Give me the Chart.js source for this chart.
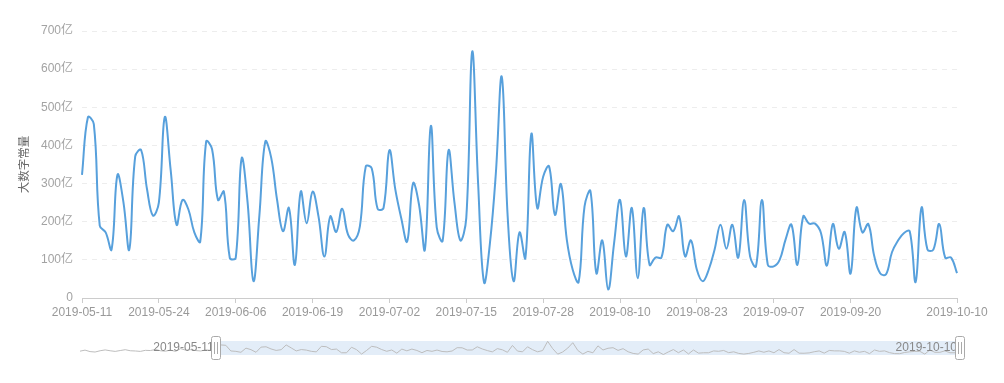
<!DOCTYPE html>
<html>
<head>
<meta charset="utf-8">
<script src="https://cdn.jsdelivr.net/npm/chart.js@4.4.1/dist/chart.umd.min.js"></script>
<style>
  html, body { margin: 0; padding: 0; background: #fff; }
  #wrap { position: relative; width: 1004px; height: 383px; }
  #main { position: absolute; left: 0; top: 0; }
  #zoom { position: absolute; left: 0; top: 330px; }
</style>
</head>
<body>
<div id="wrap">
  <canvas id="main" width="1004" height="330"></canvas>
  <canvas id="zoom" width="1004" height="53"></canvas>
</div>
<script>
// dates shown in the main window (some days are missing in the source data)
const firstDate = '2019-05-11';
const lastDate = '2019-10-10';
const skippedDates = ['2019-08-31', '2019-09-01', '2019-10-01', '2019-10-02'];
const hiddenDaysBefore = 27; // data before the zoom window, only seen in the slider

// 大数字常量, in 亿
const values = [
  323, 474, 456, 190, 172, 127, 323, 252, 127, 371, 388, 285, 216, 250, 474, 335, 192, 257, 232, 172,
  148, 410, 390, 257, 279, 105, 105, 366, 252, 44, 216, 410, 368, 257, 175, 236, 87, 279, 196, 279,
  214, 109, 214, 173, 234, 166, 151, 188, 345, 340, 234, 236, 387, 284, 209, 148, 301, 245, 127, 451,
  185, 150, 387, 250, 151, 210, 646, 300, 41, 144, 327, 580, 214, 44, 172, 105, 430, 236, 318, 345,
  218, 299, 153, 74, 42, 240, 280, 65, 151, 22, 144, 257, 109, 236, 52, 236, 87, 106, 106, 192,
  175, 214, 109, 151, 74, 44, 74, 127, 192, 129, 192, 106, 257, 109, 83, 257, 87, 83, 100, 153,
  192, 87, 214, 195, 195, 170, 85, 194, 129, 173, 64, 237, 172, 194, 110, 65, 62, 120, 150, 170,
  175, 42, 237, 127, 127, 194, 106, 106, 65
];

// values before 2019-05-11
const hiddenValues = [
  180, 230, 160, 140, 200, 240, 200, 170, 210, 250, 200, 190, 170, 220, 210, 260, 200, 180,
  230, 170, 300, 230, 250, 210, 190, 240, 220
];

const yTicks = [0, 100, 200, 300, 400, 500, 600, 700];
const labelEvery = 13;

const lineColor = '#57a0dc';
const fontFamily = '"Liberation Sans", Arial, "Noto Sans CJK SC", sans-serif';

function fmt(d) {
  return d.toISOString().slice(0, 10);
}

function buildDates() {
  const out = [];
  const d = new Date(firstDate + 'T00:00:00Z');
  while (fmt(d) <= lastDate) {
    if (!skippedDates.includes(fmt(d))) out.push(fmt(d));
    d.setUTCDate(d.getUTCDate() + 1);
  }
  return out;
}

function buildHiddenDates() {
  const out = [];
  const d = new Date(firstDate + 'T00:00:00Z');
  for (let i = 0; i < hiddenDaysBefore; i++) {
    d.setUTCDate(d.getUTCDate() - 1);
    out.unshift(fmt(d));
  }
  return out;
}

const dates = buildDates();
const allDates = buildHiddenDates().concat(dates);
const allValues = hiddenValues.concat(values);

new Chart(document.getElementById('main'), {
  type: 'line',
  data: {
    labels: dates,
    datasets: [{
      data: values,
      borderColor: lineColor,
      borderWidth: 2,
      pointRadius: 0,
      tension: 0.4,
      fill: false
    }]
  },
  options: {
    responsive: false,
    animation: false,
    layout: { padding: { left: 0, right: 47, top: 31, bottom: 0 } },
    plugins: { legend: { display: false }, tooltip: { enabled: false } },
    scales: {
      x: {
        afterFit: s => { s.height = 32; },
        grid: { display: true, drawOnChartArea: false, drawTicks: true, tickLength: 5, color: '#ccc' },
        border: { display: true, color: '#ccc' },
        ticks: {
          autoSkip: false,
          maxRotation: 0,
          padding: 2,
          color: '#999',
          font: { size: 12, family: fontFamily },
          callback: (v, i) => {
            const last = dates.length - 1;
            if (i === last) return dates[i];
            if (i % labelEvery === 0 && last - i >= labelEvery) return dates[i];
            return null;
          }
        }
      },
      y: {
        min: yTicks[0],
        max: yTicks[yTicks.length - 1],
        afterFit: s => { s.width = 82; },
        afterBuildTicks: s => { s.ticks = yTicks.map(v => ({ value: v })); },
        ticks: {
          padding: 9,
          color: '#a3a3a3',
          font: { size: 12, family: fontFamily },
          callback: v => v === 0 ? '0' : v + '亿'
        },
        grid: {
          drawTicks: false,
          color: c => c.tick && c.tick.value === 0 ? 'rgba(0,0,0,0)' : '#ededed'
        },
        border: { display: false, dash: [5, 5] },
        title: {
          display: true,
          text: '大数字常量',
          color: '#666',
          font: { size: 11.5, family: fontFamily },
          padding: { top: 18, bottom: 0 }
        }
      }
    }
  }
});

// dataZoom style slider under the chart
const sliderPlugin = {
  id: 'slider',
  beforeDatasetsDraw(chart) {
    const { ctx, chartArea: a, scales: { x } } = chart;
    const x0 = x.getPixelForValue(hiddenValues.length);
    ctx.save();
    ctx.fillStyle = '#e3edf8';
    ctx.fillRect(x0, a.top, a.right - x0, a.bottom - a.top);
    ctx.restore();
  },
  afterDatasetsDraw(chart) {
    const { ctx, chartArea: a, scales: { x } } = chart;
    const x0 = x.getPixelForValue(hiddenValues.length);
    const x1 = a.right;
    const mid = (a.top + a.bottom) / 2;
    ctx.save();
    ctx.font = '12px ' + fontFamily;
    ctx.fillStyle = '#888';
    ctx.textAlign = 'right';
    ctx.textBaseline = 'middle';
    ctx.fillText(dates[0], x0 - 2, mid);
    ctx.fillText(dates[dates.length - 1], x1 - 3, mid);
    [x0, x1].forEach(hx => {
      ctx.fillStyle = '#fff';
      ctx.strokeStyle = '#aaa';
      ctx.lineWidth = 1;
      ctx.beginPath();
      ctx.roundRect(Math.round(hx) - 4.5, a.top - 4.5, 9, a.bottom - a.top + 9, 2);
      ctx.fill();
      ctx.stroke();
      ctx.beginPath();
      ctx.moveTo(Math.round(hx) - 1.5, a.top + 1);
      ctx.lineTo(Math.round(hx) - 1.5, a.bottom - 1);
      ctx.moveTo(Math.round(hx) + 1.5, a.top + 1);
      ctx.lineTo(Math.round(hx) + 1.5, a.bottom - 1);
      ctx.stroke();
    });
    ctx.restore();
  }
};

new Chart(document.getElementById('zoom'), {
  type: 'line',
  data: {
    labels: allDates,
    datasets: [{
      data: allValues,
      borderColor: '#bdbdbd',
      borderWidth: 1,
      pointRadius: 0,
      tension: 0,
      fill: false
    }]
  },
  options: {
    responsive: false,
    animation: false,
    layout: { padding: { left: 80, right: 44, top: 11, bottom: 28 } },
    plugins: { legend: { display: false }, tooltip: { enabled: false } },
    scales: {
      x: { display: false },
      y: { display: false, min: 0, max: 660 }
    }
  },
  plugins: [sliderPlugin]
});
</script>
</body>
</html>
